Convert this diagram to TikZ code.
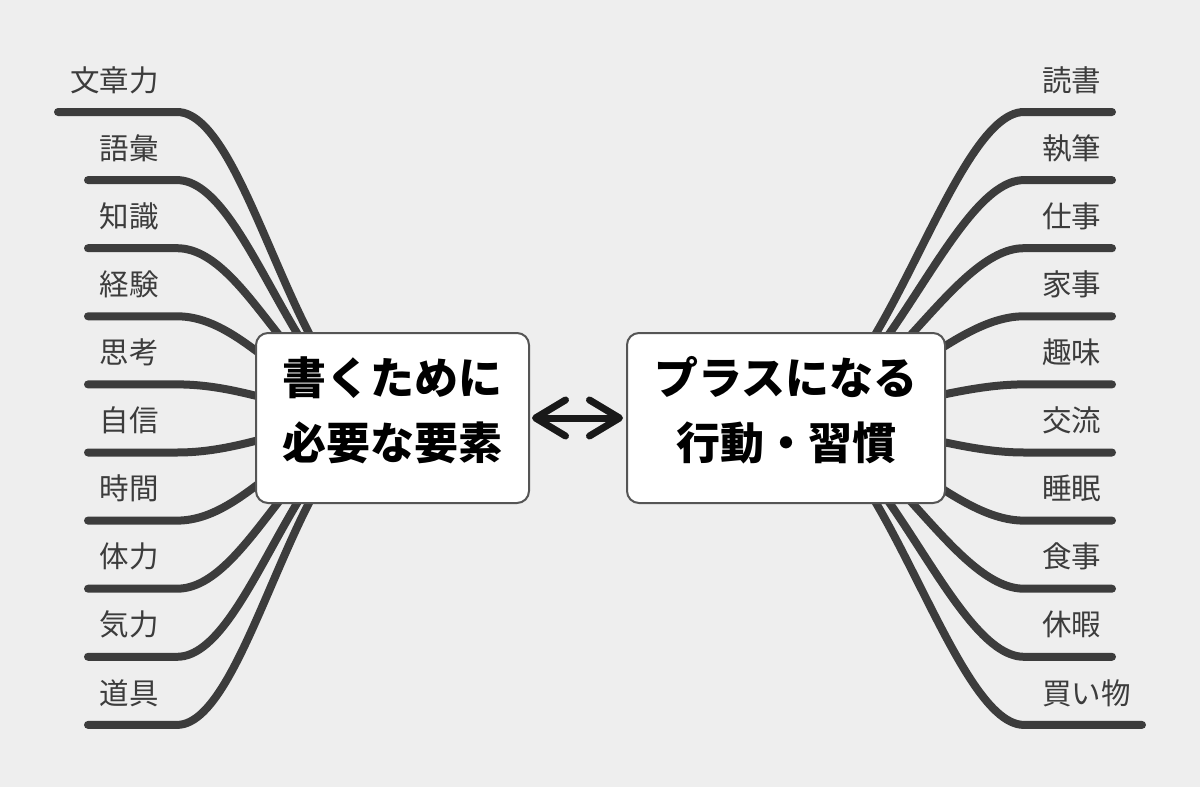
\documentclass[tikz,border=0pt]{standalone}
\usepackage{fontspec}
\setmainfont{Noto Sans CJK JP}
\usepackage{tikz}
\usetikzlibrary{calc,arrows.meta}
\definecolor{bggrey}{HTML}{EEEEEE}
\definecolor{armgrey}{HTML}{3C3C3C}
\definecolor{edgegrey}{HTML}{555555}
\tikzset{
	branch/.style={line width=8pt, draw=armgrey, line cap=round},
	leaf/.style={inner sep=0pt, text=armgrey, font=\fontsize{29.5}{34}\selectfont},
	mainbox/.style={draw=edgegrey, line width=2pt, fill=white, rounded corners=12pt, minimum height=170pt},
	headline/.style={align=center, inner sep=0pt, font=\fontsize{44}{65}\selectfont\bfseries},
	biarrow/.style={line width=7pt, draw=black!90, {Straight Barb[length=30pt,width=36pt,round]}-{Straight Barb[length=30pt,width=36pt,round]}}
}
\def\leftarm[#1](#2,#3)#4{%
	\node[leaf, anchor=east] (#1) at (159,#3-32) {#4};
	\coordinate (#1-end) at (#2,#3);
	\draw[branch] (#1-end) -- (177,#3) .. controls (250,#3) and (300,418) .. (needc);}
\def\rightarm[#1](#2,#3)#4{%
	\node[leaf, anchor=west] (#1) at (1042,#3-32) {#4};
	\coordinate (#1-end) at (#2,#3);
	\draw[branch] (#1-end) -- (1024,#3) .. controls (951,#3) and (879,418) .. (plusc);}

\begin{document}
\begin{tikzpicture}[x=1pt, y=-1pt]
			%%%%% START %%%%%
			\fill[bggrey] (0, 0) rectangle (1200, 787);
			\useasboundingbox (0, 0) rectangle (1200, 787);
			
			\coordinate (needc) at (392.5, 418);
			\coordinate (plusc) at (786, 418);
			
			\leftarm[el1](58, 112){文章力}
			\leftarm[el2](88, 180.1){語彙}
			\leftarm[el3](88, 248.2){知識}
			\leftarm[el4](88, 316.3){経験}
			\leftarm[el5](88, 384.4){思考}
			\leftarm[el6](88, 452.5){自信}
			\leftarm[el7](88, 520.6){時間}
			\leftarm[el8](88, 588.7){体力}
			\leftarm[el9](88, 656.8){気力}
			\leftarm[el10](88, 724.9){道具}
			
			\rightarm[ha1](1112, 112){読書}
			\rightarm[ha2](1112, 180.1){執筆}
			\rightarm[ha3](1112, 248.2){仕事}
			\rightarm[ha4](1112, 316.3){家事}
			\rightarm[ha5](1112, 384.4){趣味}
			\rightarm[ha6](1112, 452.5){交流}
			\rightarm[ha7](1112, 520.6){睡眠}
			\rightarm[ha8](1112, 588.7){食事}
			\rightarm[ha9](1112, 656.8){休暇}
			\rightarm[ha10](1142, 724.9){買い物}
			
			\node[mainbox, minimum width=273pt] (need) at (needc) {};
			\node[headline] (needtext) at ($(needc)+(0,-8)$) {書くために\\必要な要素};
			
			\node[mainbox, minimum width=318pt] (plus) at (plusc) {};
			\node[headline] (plustext) at ($(plusc)+(0,-8)$) {プラスになる\\行動・習慣};
			
			\draw[biarrow, shorten <=2pt, shorten >=3pt] (need.east) -- (plus.west);
			%%%%% END %%%%%
\end{tikzpicture}
\end{document}
